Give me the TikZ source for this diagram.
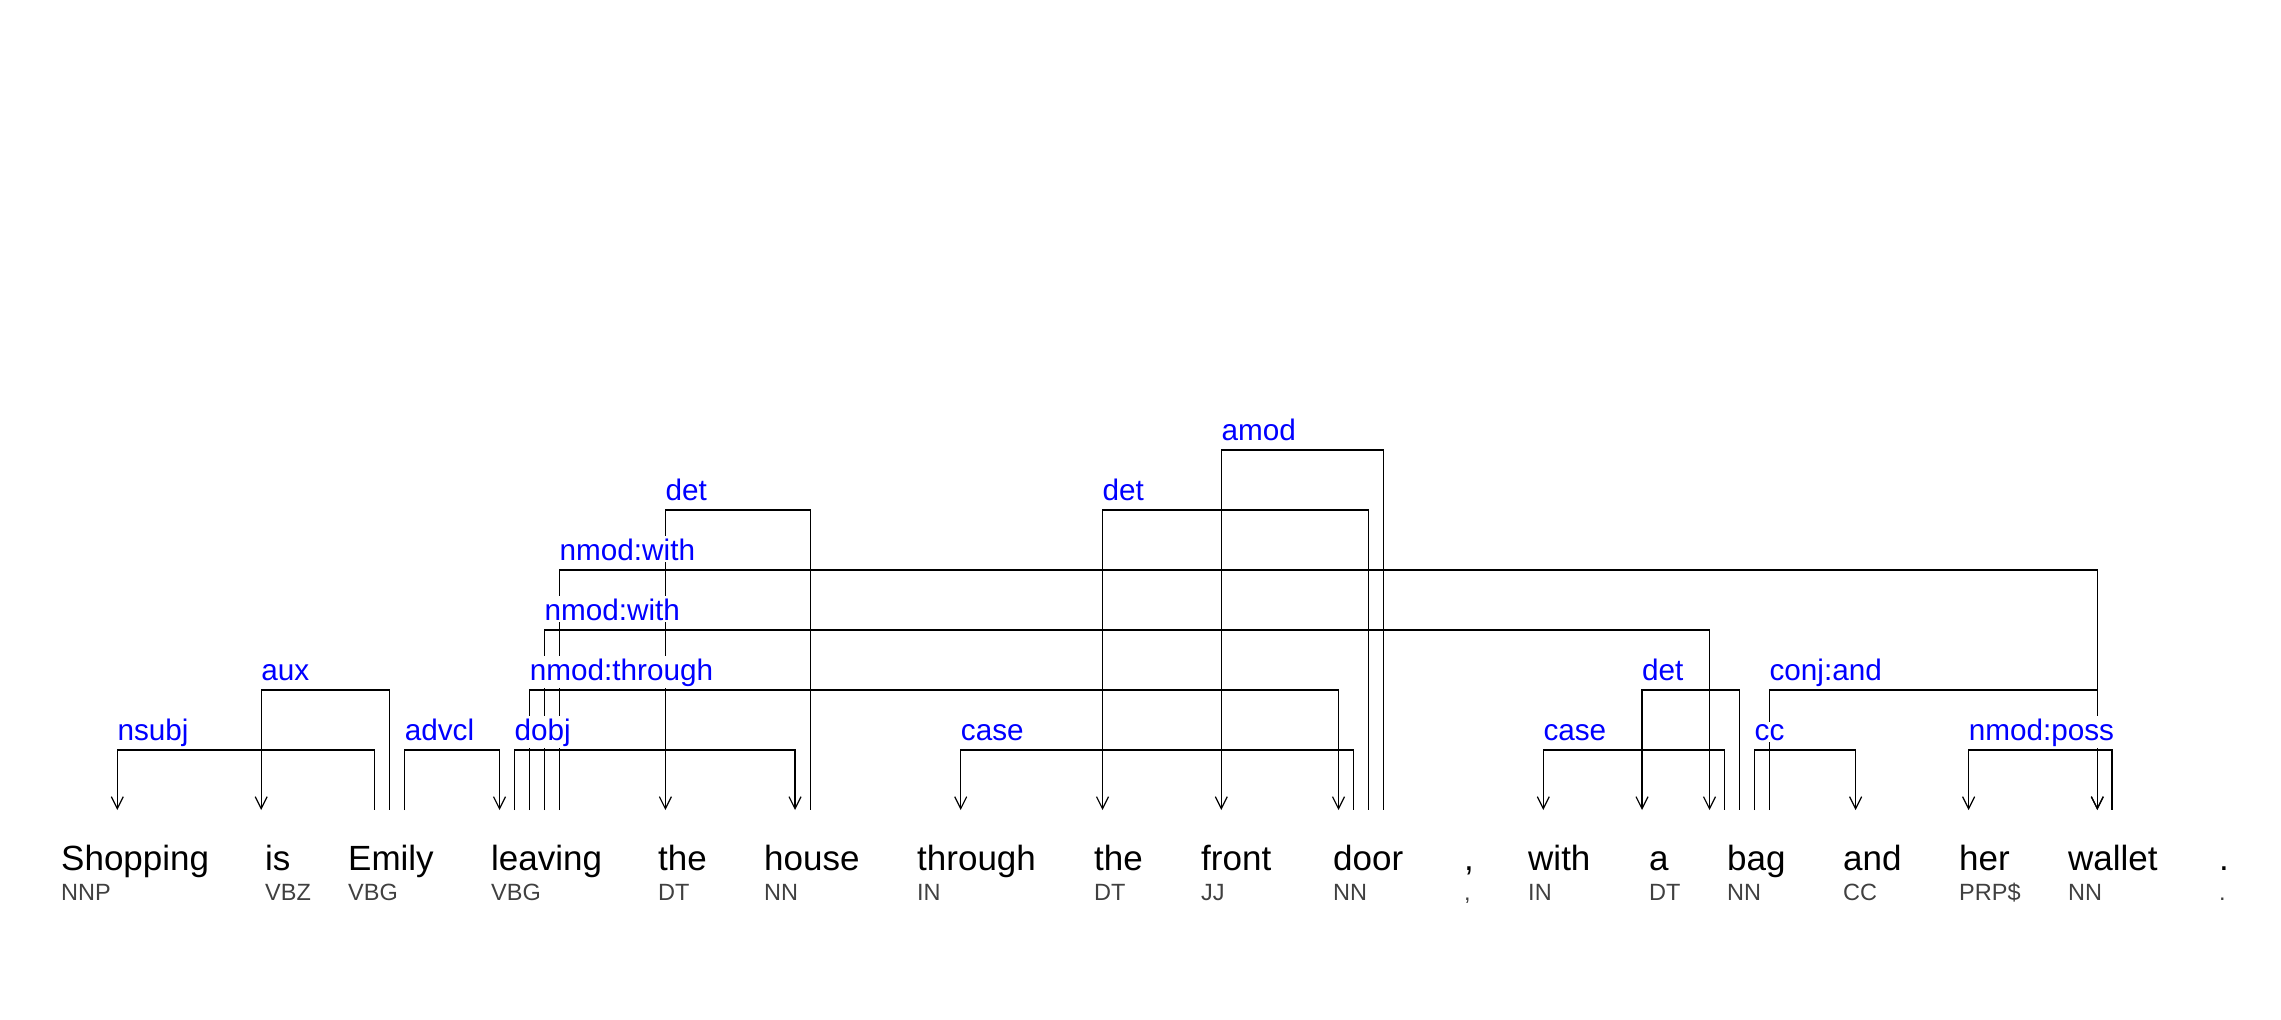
\documentclass[tikz,border=0pt]{standalone}
\usepackage{fontspec}
\setmainfont{Liberation Sans}
\usetikzlibrary{arrows.meta}
\definecolor{tagGray}{RGB}{64,64,64}
\definecolor{relBlue}{RGB}{0,0,255}

\begin{document}
\begin{tikzpicture}[
    x=1pt, y=-1pt,
    >={Straight Barb[length=12pt,width=12pt]},
    word/.style={anchor=base west, inner sep=0pt, font=\fontsize{35}{40}\selectfont},
    tag/.style={anchor=base west, inner sep=0pt, text=tagGray, font=\fontsize{23.5}{26}\selectfont},
    rel/.style={anchor=base west, inner xsep=0pt, inner ysep=2pt, yshift=10pt, fill=white,
        text=relBlue, font=\fontsize{29.7}{33}\selectfont},
    dep/.style={line width=1.2pt},
]
    \useasboundingbox (0,0) rectangle (2281,1020);

    % words and tags
    \node[word] (Shopping) at (61,870) {Shopping};  \node[tag] (tShopping) at (61,900) {NNP};
    \node[word] (is) at (265,870) {is};             \node[tag] (tis) at (265,900) {VBZ};
    \node[word] (Emily) at (348,870) {Emily};       \node[tag] (tEmily) at (348,900) {VBG};
    \node[word] (leaving) at (491,870) {leaving};   \node[tag] (tleaving) at (491,900) {VBG};
    \node[word] (theA) at (658,870) {the};          \node[tag] (ttheA) at (658,900) {DT};
    \node[word] (house) at (764,870) {house};       \node[tag] (thouse) at (764,900) {NN};
    \node[word] (through) at (917,870) {through};   \node[tag] (tthrough) at (917,900) {IN};
    \node[word] (theB) at (1094,870) {the};         \node[tag] (ttheB) at (1094,900) {DT};
    \node[word] (front) at (1201,870) {front};      \node[tag] (tfront) at (1201,900) {JJ};
    \node[word] (door) at (1333,870) {door};        \node[tag] (tdoor) at (1333,900) {NN};
    \node[word] (comma) at (1464,870) {,};          \node[tag] (tcomma) at (1464,900) {,};
    \node[word] (with) at (1528,870) {with};        \node[tag] (twith) at (1528,900) {IN};
    \node[word] (a) at (1649,870) {a};              \node[tag] (ta) at (1649,900) {DT};
    \node[word] (bag) at (1727,870) {bag};          \node[tag] (tbag) at (1727,900) {NN};
    \node[word] (and) at (1843,870) {and};          \node[tag] (tand) at (1843,900) {CC};
    \node[word] (her) at (1959,870) {her};          \node[tag] (ther) at (1959,900) {PRP\$};
    \node[word] (wallet) at (2068,870) {wallet};    \node[tag] (twallet) at (2068,900) {NN};
    \node[word] (stop) at (2219,870) {.};           \node[tag] (tstop) at (2219,900) {.};

    % ports above the words
    \coordinate (Shopping-1) at (117.3,810);
    \coordinate (is-1) at (261.2,810);
    \coordinate (Emily-1) at (374.5,810);
    \coordinate (Emily-2) at (389.3,810);
    \coordinate (Emily-3) at (404.6,810);
    \coordinate (leaving-1) at (499.5,810);
    \coordinate (leaving-2) at (514.3,810);
    \coordinate (leaving-3) at (529.6,810);
    \coordinate (leaving-4) at (544.4,810);
    \coordinate (leaving-5) at (559.5,810);
    \coordinate (theA-1) at (665.4,810);
    \coordinate (house-1) at (795,810);
    \coordinate (house-2) at (810.7,810);
    \coordinate (through-1) at (960.7,810);
    \coordinate (theB-1) at (1102.5,810);
    \coordinate (front-1) at (1221.3,810);
    \coordinate (door-1) at (1338.5,810);
    \coordinate (door-2) at (1353.6,810);
    \coordinate (door-3) at (1368.5,810);
    \coordinate (door-4) at (1383.6,810);
    \coordinate (with-1) at (1543.3,810);
    \coordinate (a-1) at (1642,810);
    \coordinate (bag-1) at (1709.5,810);
    \coordinate (bag-2) at (1724.6,810);
    \coordinate (bag-3) at (1739.4,810);
    \coordinate (bag-4) at (1754.5,810);
    \coordinate (bag-5) at (1769.4,810);
    \coordinate (and-1) at (1855.6,810);
    \coordinate (her-1) at (1968.6,810);
    \coordinate (wallet-1) at (2097.3,810);
    \coordinate (wallet-2) at (2112,810);

    % dependencies
    \draw[dep,<-] (Shopping-1) -- ++(0,-60) coordinate (c-nsubj) -| (Emily-1);
    \draw[dep,<-] (is-1) -- ++(0,-120) coordinate (c-aux) -| (Emily-2);
    \draw[dep,->] (Emily-3) -- ++(0,-60) coordinate (c-advcl) -| (leaving-1);
    \draw[dep,->] (leaving-2) -- ++(0,-60) coordinate (c-dobj) -| (house-1);
    \draw[dep,->] (leaving-3) -- ++(0,-120) coordinate (c-nmodthrough) -| (door-1);
    \draw[dep,->] (leaving-4) -- ++(0,-180) coordinate (c-nmodwithA) -| (bag-1);
    \draw[dep,->] (leaving-5) -- ++(0,-240) coordinate (c-nmodwithB) -| (wallet-1);
    \draw[dep,<-] (theA-1) -- ++(0,-300) coordinate (c-detA) -| (house-2);
    \draw[dep,<-] (through-1) -- ++(0,-60) coordinate (c-caseA) -| (door-2);
    \draw[dep,<-] (theB-1) -- ++(0,-300) coordinate (c-detB) -| (door-3);
    \draw[dep,<-] (front-1) -- ++(0,-360) coordinate (c-amod) -| (door-4);
    \draw[dep,<-] (with-1) -- ++(0,-60) coordinate (c-caseB) -| (bag-2);
    \draw[dep,<-] (a-1) -- ++(0,-120) coordinate (c-detC) -| (bag-3);
    \draw[dep,->] (bag-4) -- ++(0,-60) coordinate (c-cc) -| (and-1);
    \draw[dep,->] (bag-5) -- ++(0,-120) coordinate (c-conjand) -| (wallet-1);
    \draw[dep,<-] (her-1) -- ++(0,-60) coordinate (c-nmodposs) -| (wallet-2);

    % relation labels, on top of the lines
    \node[rel] (nsubj) at (c-nsubj) {nsubj};
    \node[rel] (aux) at (c-aux) {aux};
    \node[rel] (advcl) at (c-advcl) {advcl};
    \node[rel] (dobj) at (c-dobj) {dobj};
    \node[rel] (nmodthrough) at (c-nmodthrough) {nmod:through};
    \node[rel] (nmodwithA) at (c-nmodwithA) {nmod:with};
    \node[rel] (nmodwithB) at (c-nmodwithB) {nmod:with};
    \node[rel] (detA) at (c-detA) {det};
    \node[rel] (caseA) at (c-caseA) {case};
    \node[rel] (detB) at (c-detB) {det};
    \node[rel] (amod) at (c-amod) {amod};
    \node[rel] (caseB) at (c-caseB) {case};
    \node[rel] (detC) at (c-detC) {det};
    \node[rel] (cc) at (c-cc) {cc};
    \node[rel] (conjand) at (c-conjand) {conj:and};
    \node[rel] (nmodposs) at (c-nmodposs) {nmod:poss};
\end{tikzpicture}
\end{document}
